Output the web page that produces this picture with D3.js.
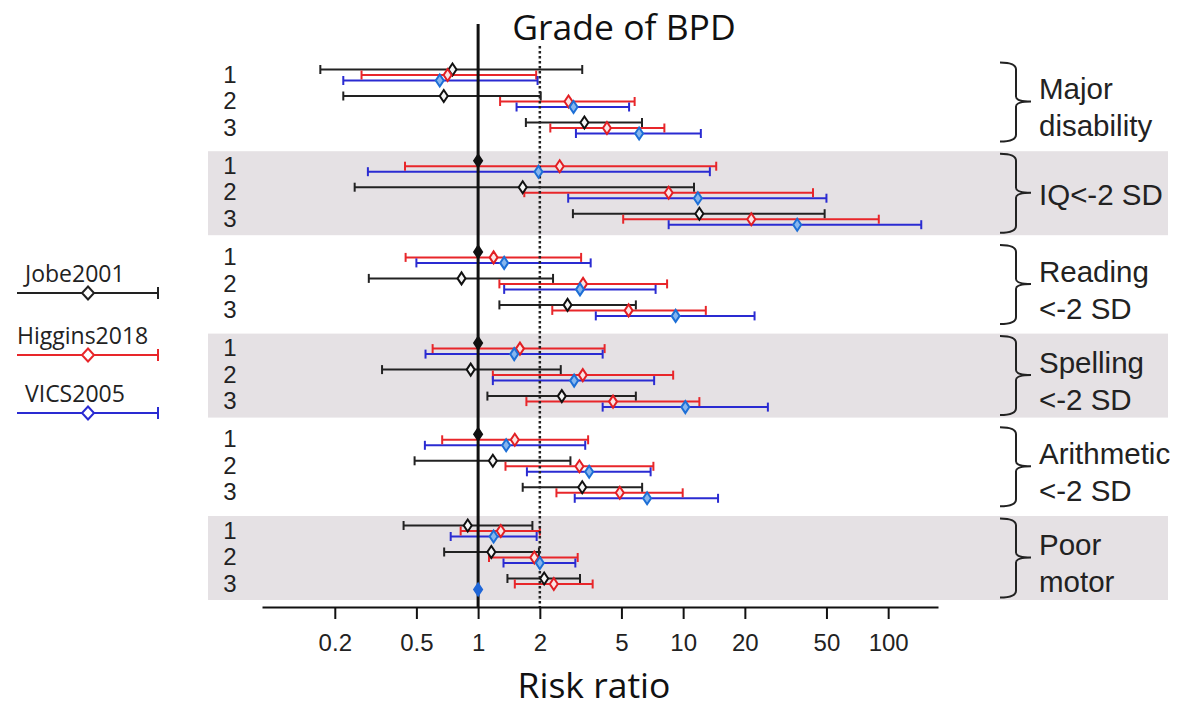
<!DOCTYPE html>
<html>
<head>
<meta charset="utf-8">
<script src="https://cdn.jsdelivr.net/npm/d3@7"></script>
<style>
  html, body { margin: 0; padding: 0; background: #fff; }
  svg { display: block; }
</style>
</head>
<body>
<svg id="chart" width="1178" height="708"></svg>
<script>
// Outcomes, grades of BPD and the three cohorts
const outcomes = ["Major disability", "IQ<-2 SD", "Reading <-2 SD", "Spelling <-2 SD", "Arithmetic <-2 SD", "Poor motor"];
const outcomeLines = [["Major", "disability"], ["IQ<-2 SD"], ["Reading", "<-2 SD"], ["Spelling", "<-2 SD"], ["Arithmetic", "<-2 SD"], ["Poor", "motor"]];
const grades = ["1", "2", "3"];
const seriesNames = ["Jobe2001", "Higgins2018", "VICS2005"];
const tickValues = [0.2, 0.5, 1, 2, 5, 10, 20, 50, 100];

// Risk ratios with 95% CI, ordered outcome by outcome, grade 1..3.
// A null interval marks the reference group (RR = 1).
const jobeRR   = [0.75, 0.68, 3.3,   1, 1.65, 12,   1, 0.83, 2.73,   1, 0.92, 2.56,   1, 1.18, 3.22,   0.89, 1.16, 2.10];
const jobeLow  = [0.17, 0.22, 1.71,  null, 0.25, 2.9,   null, 0.293, 1.27,   null, 0.34, 1.11,   null, 0.49, 1.65,   0.433, 0.683, 1.39];
const jobeHigh = [3.22, 2.02, 6.3,   null, 11.3, 49,    null, 2.32, 5.88,    null, 2.53, 5.88,   null, 2.82, 6.31,   1.84, 1.98, 3.14];

const higginsRR   = [0.71, 2.76, 4.25,   2.5, 8.5, 21.5,   1.19, 3.25, 5.42,   1.6, 3.24, 4.55,   1.51, 3.12, 4.91,   1.29, 1.88, 2.34];
const higginsLow  = [0.27, 1.28, 2.25,   0.44, 1.68, 5.1,   0.443, 1.27, 2.3,   0.6, 1.18, 1.72,   0.668, 1.36, 2.41,   0.822, 1.13, 1.51];
const higginsHigh = [1.92, 5.8, 8.1,     14.5, 43, 90,      3.18, 8.35, 12.9,   4.14, 8.94, 12.0,  3.44, 7.16, 9.95,    2.0, 3.06, 3.62];

const vicsRR   = [0.65, 2.92, 6.1,   1.97, 11.8, 36,   1.34, 3.14, 9.19,   1.5, 2.94, 10.25,   1.37, 3.48, 6.67,   1.19, 2.0, 1];
const vicsLow  = [0.22, 1.54, 3.0,   0.29, 2.75, 8.5,  0.5, 1.34, 3.75,    0.554, 1.18, 4.05,  0.55, 1.73, 2.96,   0.735, 1.33, null];
const vicsHigh = [1.95, 5.45, 12.2,  13.5, 50, 145,    3.54, 7.34, 22.3,   4.05, 7.22, 25.9,   3.33, 6.94, 14.8,   1.93, 2.98, null];

const seriesStyle = {
  "Jobe2001":    { line: "#222222", stroke: "#111111", fill: "#f6f6f6", solid: "#111111" },
  "Higgins2018": { line: "#e8262a", stroke: "#e21f24", fill: "#fbe4e4", solid: "#e21f24" },
  "VICS2005":    { line: "#2a2bd2", stroke: "#1d6fd6", fill: "#86b6ee", solid: "#1f66d8" }
};
const seriesData = {
  "Jobe2001":    [jobeRR, jobeLow, jobeHigh],
  "Higgins2018": [higginsRR, higginsLow, higginsHigh],
  "VICS2005":    [vicsRR, vicsLow, vicsHigh]
};

const rows = [];
seriesNames.forEach(s => {
  const [rr, lo, hi] = seriesData[s];
  outcomes.forEach((o, oi) => {
    grades.forEach((g, gi) => {
      const k = oi * grades.length + gi;
      rows.push({ series: s, outcome: o, grade: g, rr: rr[k], lo: lo[k], hi: hi[k] });
    });
  });
});

const svg = d3.select("#chart");
const font = "'Liberation Sans', Arial, sans-serif";
const fontTitle = "'Open Sans', sans-serif";

// Scales
const x = d3.scaleLog().domain([0.0883, 175]).range([262, 938]);
const yPanel = d3.scalePoint().domain(outcomes).range([101.5, 557.5]);
const yGrade = d3.scalePoint().domain(grades).range([-26.5, 26.5]);
const ySeries = d3.scalePoint().domain(seriesNames).range([-5.5, 5.5]);
const rowY = d => yPanel(d.outcome) + yGrade(d.grade) + ySeries(d.series);

// Shaded bands behind alternate outcomes
svg.append("g").selectAll("rect")
  .data(outcomes.filter((o, i) => i % 2 === 1))
  .join("rect")
  .attr("x", 208).attr("width", 960)
  .attr("y", d => yPanel(d) - 41.5).attr("height", 84)
  .attr("fill", "#e5e1e4");

// Grade labels
const gradeRows = [];
outcomes.forEach(o => grades.forEach(g => gradeRows.push({ outcome: o, grade: g })));
svg.append("g").selectAll("text")
  .data(gradeRows)
  .join("text")
  .attr("x", 230)
  .attr("y", d => yPanel(d.outcome) + yGrade(d.grade) - 1)
  .attr("dy", "0.36em")
  .attr("text-anchor", "middle")
  .attr("font-family", font).attr("font-size", 24).attr("fill", "#222")
  .text(d => d.grade);

// Error bars
const bars = svg.append("g");
const withCI = rows.filter(d => d.lo != null);
bars.selectAll("line.ci")
  .data(withCI)
  .join("line")
  .attr("class", "ci")
  .attr("x1", d => x(d.lo)).attr("x2", d => x(d.hi))
  .attr("y1", rowY).attr("y2", rowY)
  .attr("stroke", d => seriesStyle[d.series].line).attr("stroke-width", 2);
const caps = [];
withCI.forEach(d => { caps.push({ d, v: d.lo }); caps.push({ d, v: d.hi }); });
bars.selectAll("line.cap")
  .data(caps)
  .join("line")
  .attr("class", "cap")
  .attr("x1", c => x(c.v)).attr("x2", c => x(c.v))
  .attr("y1", c => rowY(c.d) - 4.5).attr("y2", c => rowY(c.d) + 4.5)
  .attr("stroke", c => seriesStyle[c.d.series].line).attr("stroke-width", 2);

// Reference lines at RR = 1 and RR = 2
svg.append("line")
  .attr("x1", x(1)).attr("x2", x(1)).attr("y1", 24).attr("y2", 607)
  .attr("stroke", "#111").attr("stroke-width", 3);
svg.append("line")
  .attr("x1", x(2)).attr("x2", x(2)).attr("y1", 46).attr("y2", 607)
  .attr("stroke", "#222").attr("stroke-width", 2.5).attr("stroke-dasharray", "2.5,2.5");

// Point estimates
const diamond = (cx, cy, w, h) => `M${cx},${cy - h / 2}L${cx + w / 2},${cy}L${cx},${cy + h / 2}L${cx - w / 2},${cy}Z`;
svg.append("g").selectAll("path")
  .data(rows)
  .join("path")
  .attr("d", d => diamond(x(d.rr), rowY(d), 8, 12))
  .attr("fill", d => d.lo == null ? seriesStyle[d.series].solid : seriesStyle[d.series].fill)
  .attr("stroke", d => d.lo == null ? seriesStyle[d.series].solid : seriesStyle[d.series].stroke)
  .attr("stroke-width", 2);

// Axis
const axis = d3.axisBottom(x).tickValues(tickValues).tickFormat(d => String(d)).tickSize(12).tickPadding(15).tickSizeOuter(0);
const axisG = svg.append("g").attr("transform", "translate(0,607)").call(axis);
axisG.select(".domain").attr("stroke", "#111").attr("stroke-width", 2);
axisG.selectAll(".tick line").attr("stroke", "#111").attr("stroke-width", 2);
axisG.selectAll(".tick text").attr("font-family", font).attr("font-size", 24).attr("fill", "#222");

// Titles
svg.append("text").attr("x", 624).attr("y", 40).attr("text-anchor", "middle")
  .attr("font-family", fontTitle).attr("font-size", 35.5).attr("fill", "#111").text("Grade of BPD");
svg.append("text").attr("x", 594).attr("y", 698).attr("text-anchor", "middle")
  .attr("font-family", fontTitle).attr("font-size", 35.5).attr("fill", "#111").text("Risk ratio");

// Braces and outcome labels
const braces = svg.append("g");
outcomes.forEach((o, i) => {
  const cy = yPanel(o);
  const top = cy - 39, bot = cy + 40, x0 = 1000, x1 = 1016, x2 = 1031;
  braces.append("path")
    .attr("d", `M${x0},${top}Q${x1},${top} ${x1},${top + 7}L${x1},${cy - 5}Q${x1},${cy} ${x2},${cy}` +
               `Q${x1},${cy} ${x1},${cy + 5}L${x1},${bot - 7}Q${x1},${bot} ${x0},${bot}`)
    .attr("fill", "none").attr("stroke", "#222").attr("stroke-width", 2);
  const lines = outcomeLines[i];
  const offs = lines.length === 1 ? [2] : [-13, 24];
  lines.forEach((t, j) => {
    braces.append("text")
      .attr("x", 1039).attr("y", cy + offs[j]).attr("dy", "0.36em")
      .attr("font-family", font).attr("font-size", 29.5).attr("fill", "#222")
      .text(t);
  });
});

// Legend
const legend = svg.append("g");
const legendY = [293, 355, 413];
const legendTextX = [25, 17, 25];
seriesNames.forEach((s, i) => {
  const ly = legendY[i];
  const st = seriesStyle[s];
  legend.append("text").attr("x", legendTextX[i]).attr("y", ly - 11)
    .attr("font-family", fontTitle).attr("font-size", 23).attr("fill", "#222").text(s);
  legend.append("line").attr("x1", 17).attr("x2", 158).attr("y1", ly).attr("y2", ly)
    .attr("stroke", st.line).attr("stroke-width", 2);
  legend.append("line").attr("x1", 158).attr("x2", 158).attr("y1", ly - 6).attr("y2", ly + 6)
    .attr("stroke", st.line).attr("stroke-width", 2);
  legend.append("path").attr("d", diamond(88, ly, 12, 13))
    .attr("fill", "#fff").attr("stroke", st.line).attr("stroke-width", 2);
});
</script>
</body>
</html>
